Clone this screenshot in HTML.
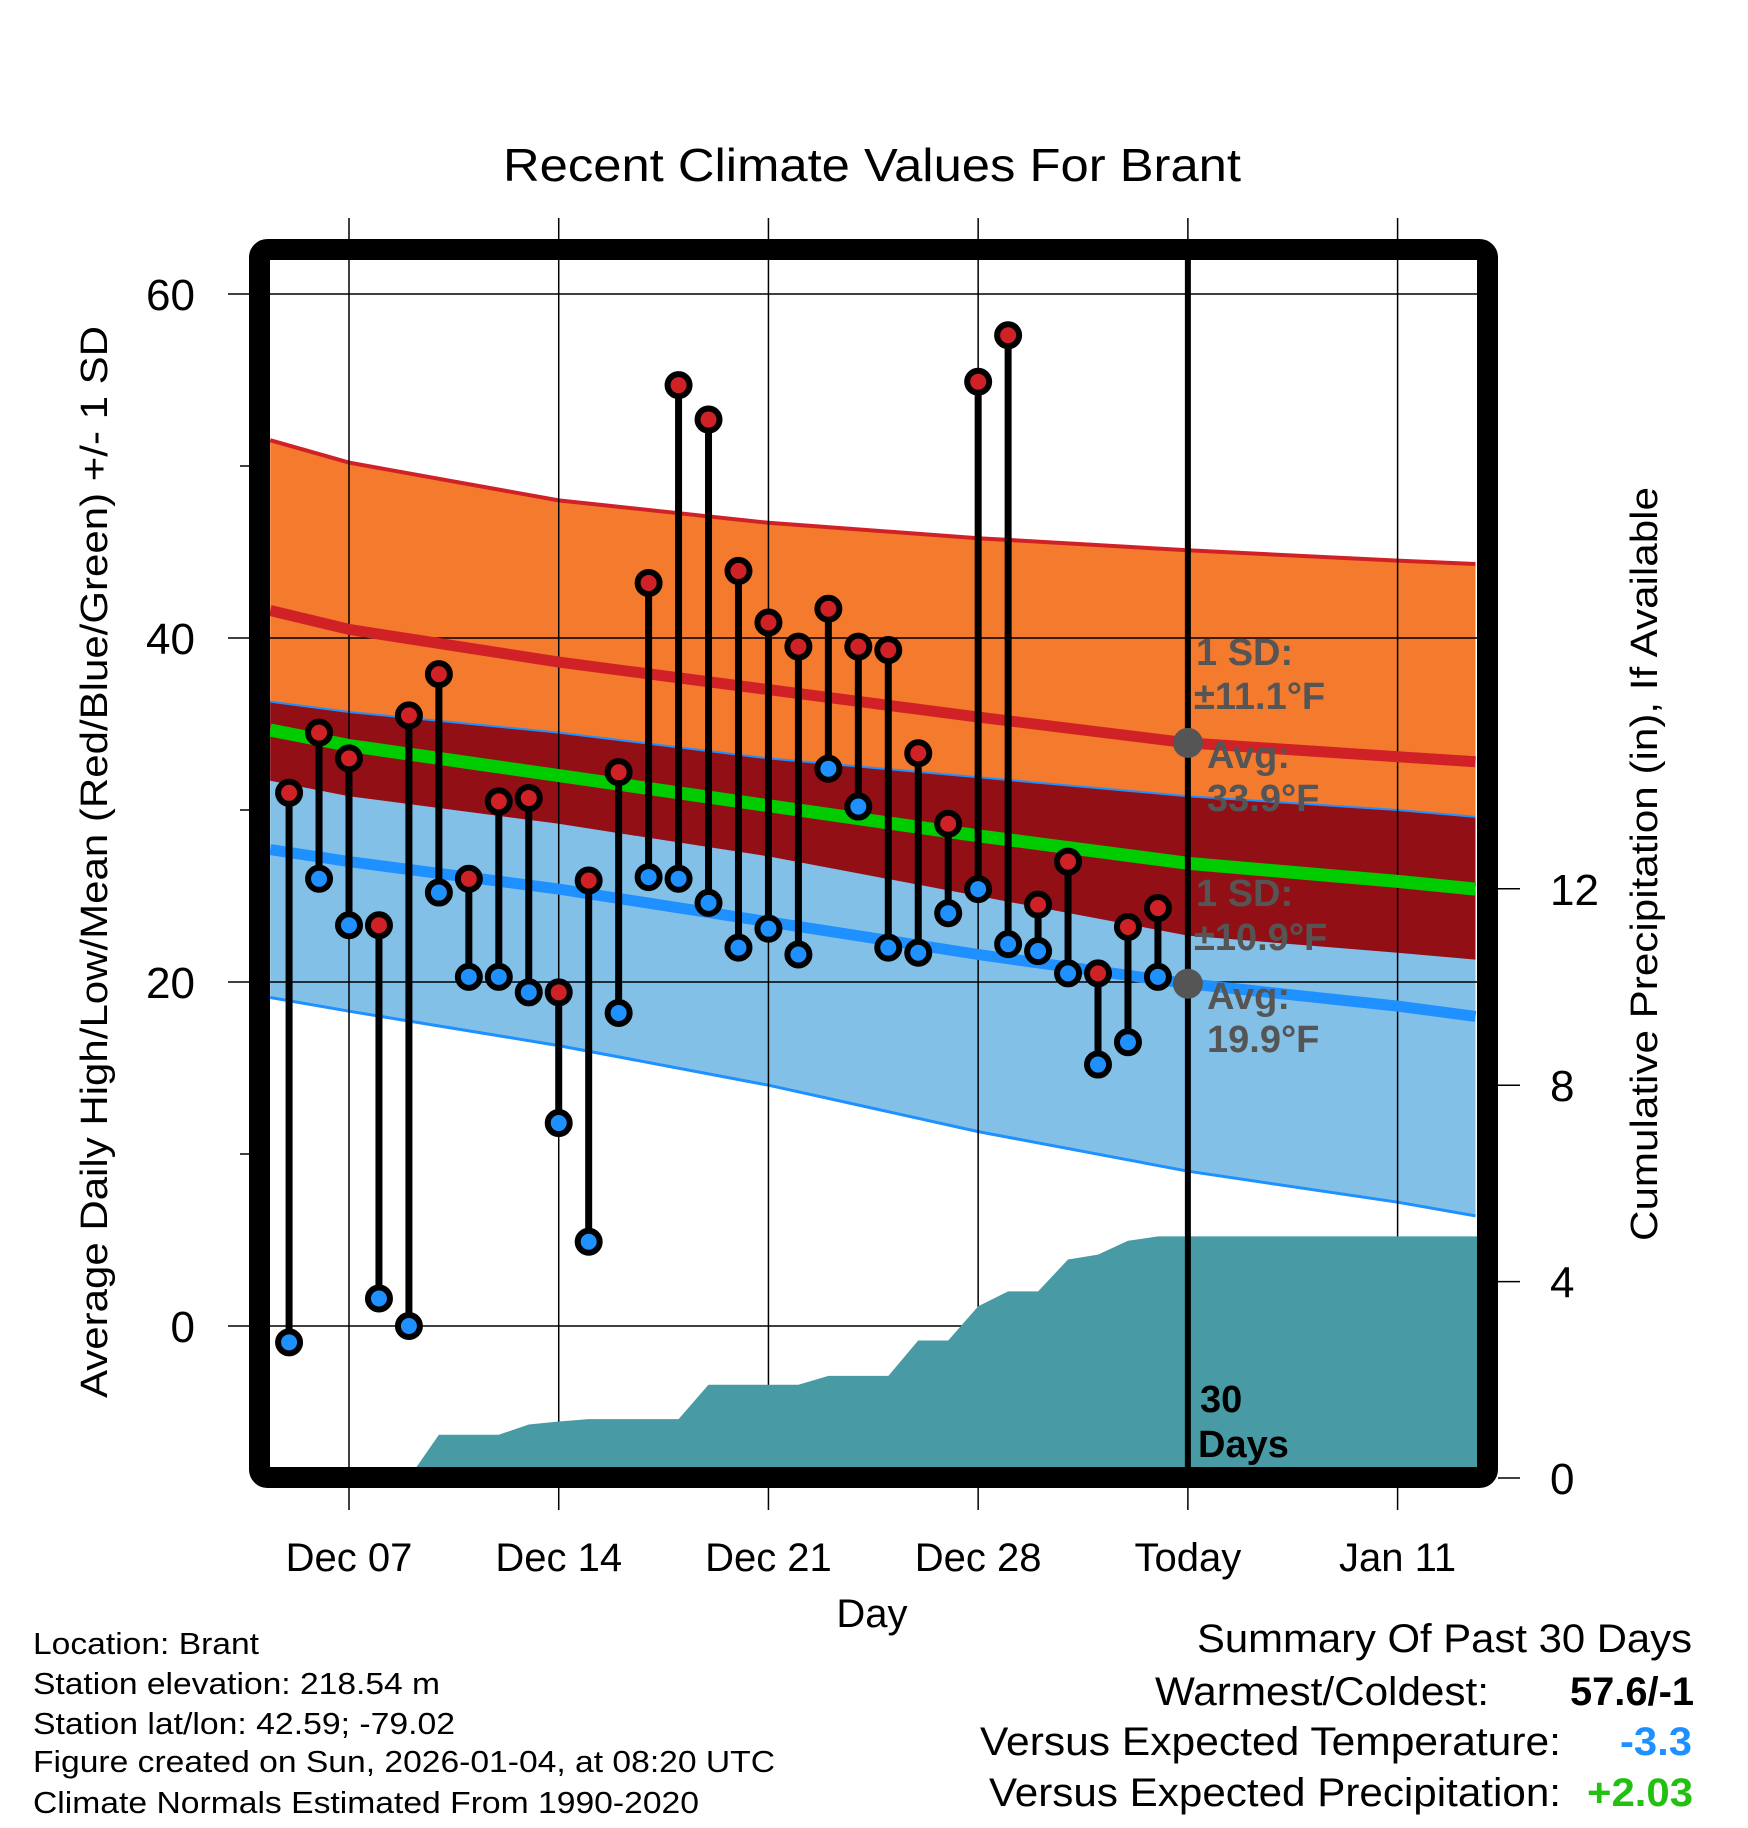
<!DOCTYPE html>
<html><head><meta charset="utf-8"><title>Recent Climate Values For Brant</title>
<style>html,body{margin:0;padding:0;background:#fff;}svg{display:block;font-family:"Liberation Sans",Arial,sans-serif;}</style>
</head><body>
<svg id="chart" xmlns="http://www.w3.org/2000/svg" width="1748" height="1828" viewBox="0 0 1748 1828">
<rect x="0" y="0" width="1748" height="1828" fill="#fff"/>
<text x="872" y="181" font-size="46" text-anchor="middle" textLength="738" lengthAdjust="spacingAndGlyphs">Recent Climate Values For Brant</text>
<defs><clipPath id="plotclip"><rect x="270" y="260" width="1208" height="1207"/></clipPath></defs>
<g id="bands" clip-path="url(#plotclip)"></g>
<g id="grid"></g>
<g id="precip" clip-path="url(#plotclip)"></g>
<g id="means" clip-path="url(#plotclip)"></g>
<g id="ann"></g>
<g id="dots"></g>
<g id="axes"></g>
<text transform="translate(107,862) rotate(-90)" font-size="38" text-anchor="middle" textLength="1072" lengthAdjust="spacingAndGlyphs">Average Daily High/Low/Mean (Red/Blue/Green) +/- 1 SD</text>
<text transform="translate(1657,864) rotate(-90)" font-size="38" text-anchor="middle" textLength="754" lengthAdjust="spacingAndGlyphs">Cumulative Precipitation (in), If Available</text>
<text x="872" y="1627" font-size="40" text-anchor="middle">Day</text>
<g font-size="31">
<text x="33" y="1654" textLength="226" lengthAdjust="spacingAndGlyphs">Location: Brant</text>
<text x="33" y="1694" textLength="407" lengthAdjust="spacingAndGlyphs">Station elevation: 218.54 m</text>
<text x="33" y="1734" textLength="422" lengthAdjust="spacingAndGlyphs">Station lat/lon: 42.59; -79.02</text>
<text x="33" y="1772" textLength="742" lengthAdjust="spacingAndGlyphs">Figure created on Sun, 2026-01-04, at 08:20 UTC</text>
<text x="33" y="1813" textLength="666" lengthAdjust="spacingAndGlyphs">Climate Normals Estimated From 1990-2020</text>
</g>
<g font-size="40">
<text x="1197" y="1652" textLength="495" lengthAdjust="spacingAndGlyphs">Summary Of Past 30 Days</text>
<text x="1155" y="1705" textLength="334" lengthAdjust="spacingAndGlyphs">Warmest/Coldest:</text>
<text x="1570" y="1705" font-weight="bold" textLength="124" lengthAdjust="spacingAndGlyphs">57.6/-1</text>
<text x="980" y="1755" textLength="581" lengthAdjust="spacingAndGlyphs">Versus Expected Temperature:</text>
<text x="1620" y="1755" font-weight="bold" fill="#1e90ff" textLength="72" lengthAdjust="spacingAndGlyphs">-3.3</text>
<text x="989" y="1806" textLength="572" lengthAdjust="spacingAndGlyphs">Versus Expected Precipitation:</text>
<text x="1587" y="1806" font-weight="bold" fill="#22c010" textLength="106" lengthAdjust="spacingAndGlyphs">+2.03</text>
</g>
</svg>
<script>
// day index: 0 = Dec 07
const obsDays = [-2,-1,0,1,2,3,4,5,6,7,8,9,10,11,12,13,14,15,16,17,18,19,20,21,22,23,24,25,26,27];
const highs = [31.0,34.5,33.0,23.3,35.5,37.9,26.0,30.5,30.7,19.4,25.9,32.2,43.2,54.7,52.7,43.9,40.9,39.5,41.7,39.5,39.3,33.3,29.2,54.9,57.6,24.5,27.0,20.5,23.2,24.3];
const lows = [-0.95,26.0,23.3,1.6,0.0,25.2,20.3,20.3,19.4,11.8,4.9,18.2,26.1,26.0,24.6,22.0,23.1,21.6,32.4,30.2,22.0,21.7,24.0,25.4,22.2,21.8,20.5,15.2,16.5,20.3];
const precipCum = [0,0,0,0,0,0.88,0.88,0.88,1.09,1.15,1.2,1.2,1.2,1.2,1.9,1.9,1.9,1.9,2.08,2.08,2.08,2.8,2.8,3.5,3.8,3.8,4.45,4.55,4.83,4.92];
const normDays = [-2.63,0,7,14,21,28,35,37.6];
const highMean = [41.6,40.5,38.6,37.0,35.4,33.9,33.1,32.8];
const highSD = [9.9,9.7,9.4,9.7,10.4,11.2,11.4,11.5];
const lowMean = [27.7,27.0,25.4,23.5,21.6,19.9,18.6,18.0];
const lowSD = [8.6,8.7,9.1,9.5,10.3,10.9,11.4,11.6];
const yTicks = [0,20,40,60];
const yMinor = [10,30,50];
const y2Ticks = [0,4,8,12];
const xTickDays = [0,7,14,21,28,35];
const xTickLabels = ["Dec 07","Dec 14","Dec 21","Dec 28","Today","Jan 11"];
const todayDay = 28;

const NS="http://www.w3.org/2000/svg";
const X = d => 349 + d*29.96;
const Y = t => 1326 - t*17.2;
const Y2 = p => 1478 - p*49.1;
function mk(tag, attrs, parent){const e=document.createElementNS(NS,tag);for(const k in attrs)e.setAttribute(k,attrs[k]);parent.appendChild(e);return e;}
const g = id => document.getElementById(id);
const pts = arr => arr.map(p=>p[0].toFixed(1)+","+p[1].toFixed(1)).join(" ");

const bands=g('bands');
const hiU=normDays.map((d,i)=>[X(d),Y(highMean[i]+highSD[i])]);
const hiL=normDays.map((d,i)=>[X(d),Y(highMean[i]-highSD[i])]);
const loU=normDays.map((d,i)=>[X(d),Y(lowMean[i]+lowSD[i])]);
const loL=normDays.map((d,i)=>[X(d),Y(lowMean[i]-lowSD[i])]);
let e;
e=mk('polygon',{points:pts(hiU.concat(hiL.slice().reverse())),fill:'#f47a2e'},bands);


e=mk('polygon',{points:pts(loU.concat(loL.slice().reverse())),fill:'#82c0e8'},bands);


e=mk('polygon',{points:pts(loU.concat(hiL.slice().reverse())),fill:'#930f16'},bands);


e=mk('polyline',{points:pts(hiU),fill:'none',stroke:'#d02226','stroke-width':4},bands);


e=mk('polyline',{points:pts(loU),fill:'none',stroke:'#1e90ff','stroke-width':2},bands);


e=mk('polyline',{points:pts(loL),fill:'none',stroke:'#1e90ff','stroke-width':3},bands);



const grid=g('grid');
yTicks.forEach(t=>{e=mk('line',{x1:228,x2:1498,y1:Y(t),y2:Y(t),stroke:'#000','stroke-width':1.5},grid);

});
yMinor.forEach(t=>{e=mk('line',{x1:240,x2:250,y1:Y(t),y2:Y(t),stroke:'#000','stroke-width':1.5},grid);

});
xTickDays.forEach(d=>{e=mk('line',{x1:X(d),x2:X(d),y1:218,y2:1510,stroke:'#000','stroke-width':1.5},grid);

});

const pr=g('precip');
const pp=obsDays.map((d,i)=>[X(d),Y2(precipCum[i])]);
pp.push([1490,Y2(precipCum[precipCum.length-1])]);
pp.push([1490,1480]);pp.push([X(obsDays[0]),1480]);
e=mk('polygon',{points:pts(pp),fill:'#489ba4'},pr);



const ml=g('means');
e=mk('polyline',{points:pts(normDays.map((d,i)=>[X(d),Y(highMean[i])])),fill:'none',stroke:'#d02226','stroke-width':11},ml);


e=mk('polyline',{points:pts(normDays.map((d,i)=>[X(d),Y(lowMean[i])])),fill:'none',stroke:'#1e90ff','stroke-width':11},ml);


e=mk('polyline',{points:pts(normDays.map((d,i)=>[X(d),Y((highMean[i]+lowMean[i])/2)])),fill:'none',stroke:'#00cc00','stroke-width':13},ml);



const ann=g('ann');
e=mk('line',{x1:X(todayDay),x2:X(todayDay),y1:260,y2:1470,stroke:'#000','stroke-width':6},ann);


const ti=normDays.indexOf(todayDay);
[[highMean[ti],'avg-high-marker'],[lowMean[ti],'avg-low-marker']].forEach(a=>{e=mk('circle',{cx:X(todayDay),cy:Y(a[0]),r:15,fill:'#555'},ann);

});
const labs=[["1 SD:",1196,665],["\u00b111.1\u00b0F",1194,709],["Avg:",1207,768],["33.9\u00b0F",1207,811],["1 SD:",1196,906],["\u00b110.9\u00b0F",1194,950],["Avg:",1207,1009],["19.9\u00b0F",1207,1052]];
labs.forEach(l=>{e=mk('text',{x:l[1],y:l[2],'font-size':38,'font-weight':'bold',fill:'#555'},ann);e.textContent=l[0];

});
[["30",1200,1412],["Days",1198,1457]].forEach(l=>{e=mk('text',{x:l[1],y:l[2],'font-size':38,'font-weight':'bold',fill:'#000'},ann);e.textContent=l[0];

});

const dots=g('dots');
obsDays.forEach((d,i)=>{
 e=mk('line',{x1:X(d),x2:X(d),y1:Y(highs[i]),y2:Y(lows[i]),stroke:'#000','stroke-width':7},dots);
 
 
});
obsDays.forEach((d,i)=>{
 e=mk('circle',{cx:X(d),cy:Y(highs[i]),r:11,fill:'#d02226',stroke:'#000','stroke-width':6},dots);
 
 
 e=mk('circle',{cx:X(d),cy:Y(lows[i]),r:11,fill:'#1e90ff',stroke:'#000','stroke-width':6},dots);
 
 
});

const ax=g('axes');
e=mk('rect',{x:259.5,y:249.5,width:1228,height:1228,rx:8,fill:'none',stroke:'#000','stroke-width':21},ax);


yTicks.forEach(t=>{e=mk('text',{x:195,y:Y(t)+16,'font-size':44,'text-anchor':'end'},ax);e.textContent=String(t);

});
y2Ticks.forEach(p=>{e=mk('line',{x1:1498,x2:1520,y1:Y2(p),y2:Y2(p),stroke:'#000','stroke-width':1.5},ax);


e=mk('text',{x:1550,y:Y2(p)+16,'font-size':44},ax);e.textContent=String(p);

});
xTickDays.forEach((d,i)=>{e=mk('text',{x:X(d),y:1571,'font-size':40,'text-anchor':'middle'},ax);e.textContent=xTickLabels[i];

});
</script>
</body></html>
